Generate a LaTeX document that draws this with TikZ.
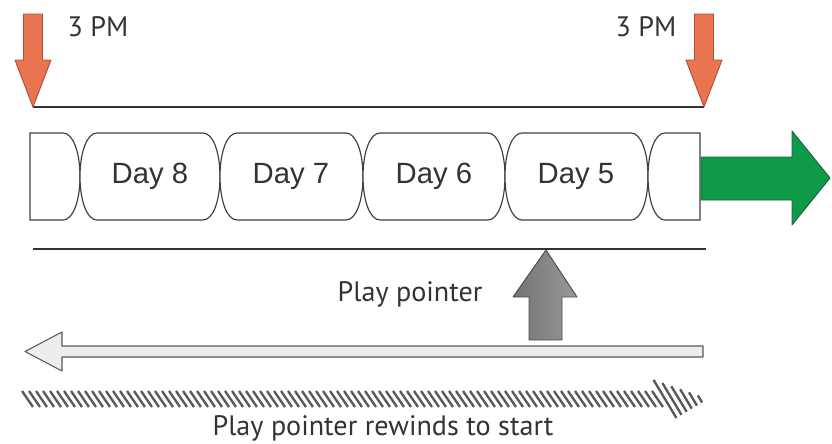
\documentclass[tikz,border=0pt]{standalone}
\usepackage{fontspec}
\setmainfont{Liberation Sans}
\newfontfamily\notefont{PT Sans}
\usetikzlibrary{positioning}

\definecolor{pmred}{HTML}{E8754F}
\definecolor{pmredline}{HTML}{B24E36}
\definecolor{fwdgreen}{HTML}{0E9A48}
\definecolor{fwdgreenline}{HTML}{23603A}

\begin{document}
\begin{tikzpicture}[x=0.03cm,y=-0.03cm,
			cell/.style={draw=black!75,line width=1pt,fill=white},
			daylbl/.style={font=\fontsize{25}{29}\selectfont,text=black!80},
			note/.style={font=\notefont\fontsize{24}{28}\selectfont,text=black!80},
			bar/.style={draw=black!80,line width=1.4pt},
			pmarrow/.style={draw=pmredline,fill=pmred,line width=0.8pt,line join=round},
			fwdarrow/.style={draw=fwdgreenline,fill=fwdgreen,line width=0.8pt,line join=round},
			ptrarrow/.style={draw=black!70,left color=black!55,right color=black!40,line width=0.8pt,line join=round},
			backarrow/.style={draw=black!65,fill=black!7,line width=0.9pt,line join=round},
			hatch/.style={draw=black!65,line width=2pt}]
			\useasboundingbox (0,0) rectangle (832,444);

			\coordinate (start) at (33,107);
			\coordinate (stop) at (704,107);
			\draw[bar] (start) -- (stop);
			\foreach \p in {start,stop}
				\draw[pmarrow,shift={(\p)}] (-9.5,-93) -- (9.5,-93) -- (9.5,-47) -- (18,-47) -- (0,0)
					-- (-18,-47) -- (-9.5,-47) -- cycle;
			\node[note] (pmleft) at (98,27) {3 PM};
			\node[note] (pmright) at (646,27) {3 PM};

			% tape of days
			\draw[cell] (30,133) -- (63,133) .. controls (73,133) and (80,152) .. (80,176.5)
				.. controls (80,201) and (73,220) .. (63,220) -- (30,220) -- cycle;
			\foreach \a/\c in {80/220,220/363,363/505,505/648}
				\draw[cell] (\a+17,133) -- (\c-17,133) .. controls (\c-7,133) and (\c,152) .. (\c,176.5)
					.. controls (\c,201) and (\c-7,220) .. (\c-17,220) -- (\a+17,220)
					.. controls (\a+7,220) and (\a,201) .. (\a,176.5)
					.. controls (\a,152) and (\a+7,133) .. (\a+17,133) -- cycle;
			\draw[cell] (700,133) -- (665,133) .. controls (655,133) and (648,152) .. (648,176.5)
				.. controls (648,201) and (655,220) .. (665,220) -- (700,220) -- cycle;
			\node[daylbl] (day8) at (150,176.5) {Day 8};
			\node[daylbl] (day7) at (291,176.5) {Day 7};
			\node[daylbl] (day6) at (434,176.5) {Day 6};
			\node[daylbl] (day5) at (576,176.5) {Day 5};

			\draw[fwdarrow] (701,157) -- (792,157) -- (792,131) -- (830,178) -- (792,225) -- (792,200) -- (701,200) -- cycle;

			\coordinate (barl) at (33,249);
			\coordinate (barr) at (706,249);
			\draw[bar] (barl) -- (barr);

			\draw[backarrow] (703,346) -- (62,346) -- (62,332) -- (25,351.5) -- (62,371) -- (62,357) -- (703,357) -- cycle;
			\coordinate (ptr) at (546,250);
			\draw[ptrarrow,shift={(ptr)}] (0,0) -- (31,47) -- (16,47) -- (16,90) -- (-17,90) -- (-17,47) -- (-33,47) -- cycle;
			\node[note] (play) at (410,294) {Play pointer};

			% rewind
			\foreach \x in {22,29,...,655}
				\draw[hatch] (\x,391) -- (\x+11,407);
			\foreach \x in {665,672,...,700}
				\draw[hatch] ({\x-0.6*19*(708-\x)/43},{399-19*(708-\x)/43}) -- ({\x+0.6*19*(708-\x)/43},{399+19*(708-\x)/43});
			\node[note] (rewind) at (383,428) {Play pointer rewinds to start};
\end{tikzpicture}
\end{document}
